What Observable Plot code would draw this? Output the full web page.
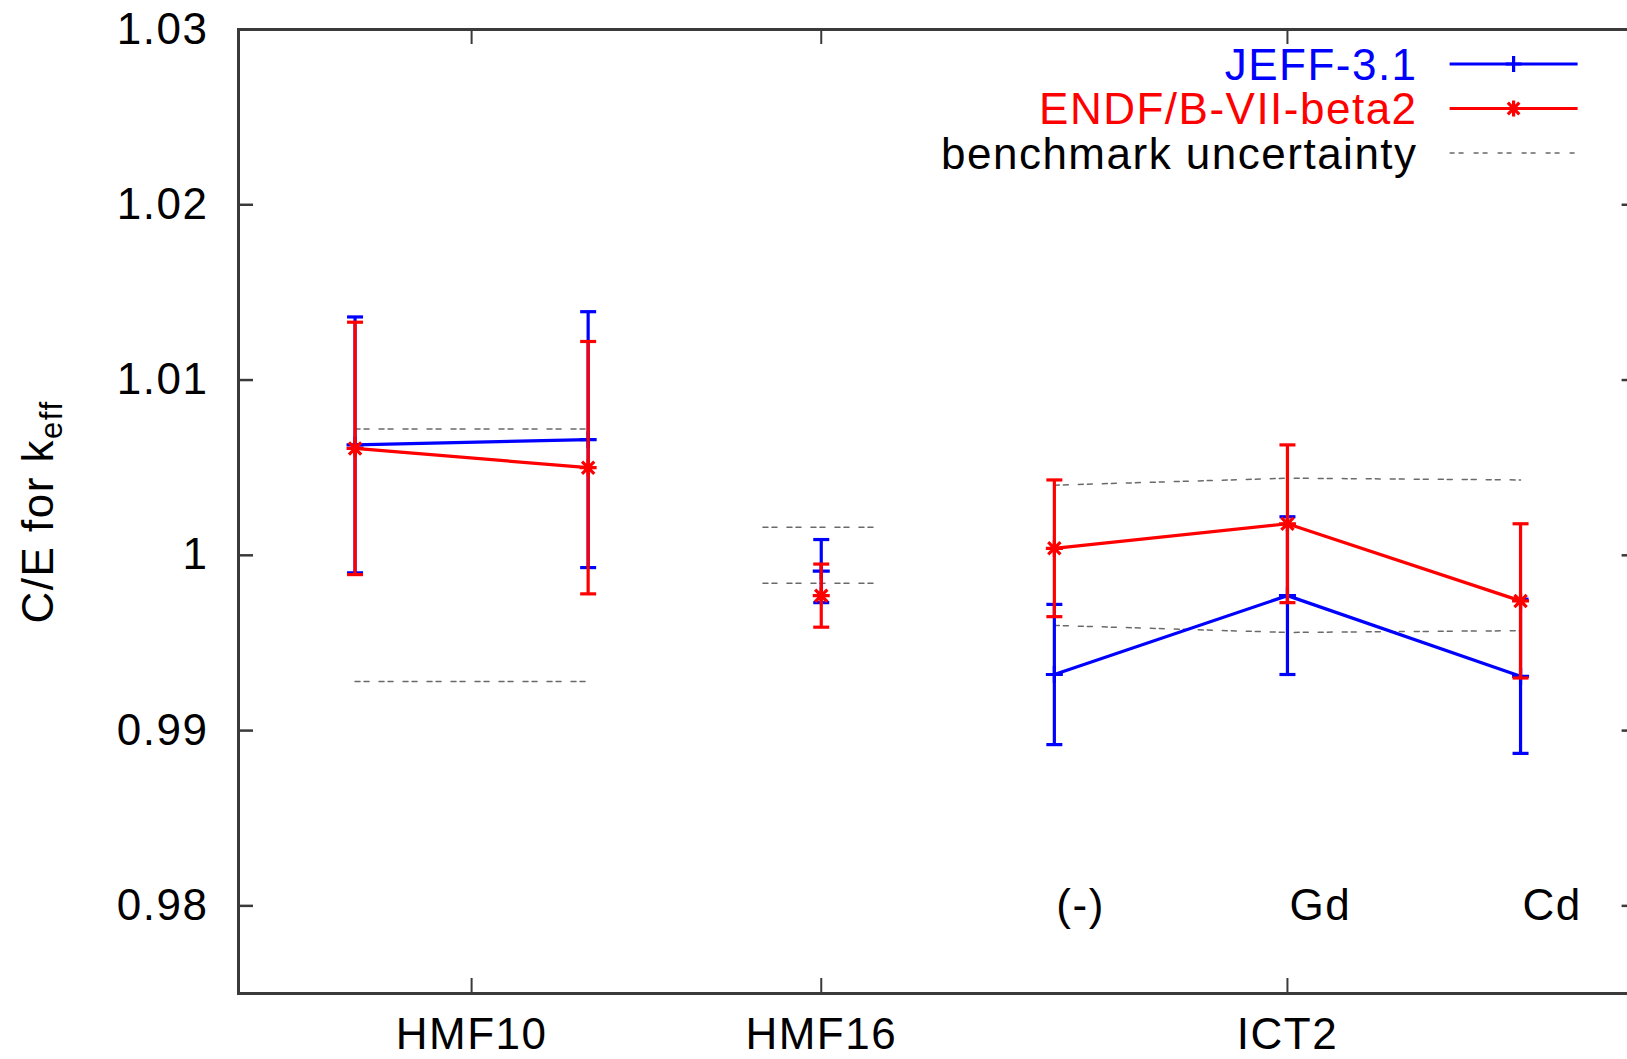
<!DOCTYPE html>
<html>
<head>
<meta charset="utf-8">
<script src="https://cdn.jsdelivr.net/npm/d3@7"></script>
<script src="https://cdn.jsdelivr.net/npm/@observablehq/plot@0.6"></script>
<style>
html, body { margin: 0; padding: 0; background: #fff; overflow: hidden; }
#chart svg { display: block; }
</style>
</head>
<body>
<div id="chart"></div>
<script>
// ---- data ----
const xPos    = [1, 2, 3, 4, 5, 6];
const groups  = ["HMF10", "HMF10", "HMF16", "ICT2", "ICT2", "ICT2"];
const jeff    = [1.0063, 1.0066, 0.9991, 0.9932, 0.9977, 0.9931];
const jeffErr = [0.0073, 0.0073, 0.0018, 0.0040, 0.0045, 0.0044];
const endf    = [1.0061, 1.0050, 0.9977, 1.0004, 1.0018, 0.9974];
const endfErr = [0.0072, 0.0072, 0.0018, 0.0039, 0.0045, 0.0044];

const benchX     = [1, 2, 2.75, 3.25, 4, 5, 6];
const benchU     = [0.0072, 0.0072, 0.0016, 0.0016, 0.0040, 0.0044, 0.0043];
const benchGroup = ["HMF10", "HMF10", "HMF16", "HMF16", "ICT2", "ICT2", "ICT2"];

const xTicks      = [1.5, 3, 5];
const xTickLabels = ["HMF10", "HMF16", "ICT2"];
const yTicks      = [0.98, 0.99, 1.00, 1.01, 1.02, 1.03];
const yTickLabels = ["0.98", "0.99", "1", "1.01", "1.02", "1.03"];

const caseX      = [4, 5, 6];
const caseY      = [0.98, 0.98, 0.98];
const caseLabels = ["(-)", "Gd", "Cd"];

const legendLabels = ["JEFF-3.1", "ENDF/B-VII-beta2", "benchmark uncertainty"];

// ---- build tables ----
const rows = xPos.map((x, i) => ({x, g: groups[i], jeff: jeff[i], jeffErr: jeffErr[i], endf: endf[i], endfErr: endfErr[i]}));
const bench = benchX.map((x, i) => ({x, u: benchU[i], g: benchGroup[i]}));
const cases = caseX.map((x, i) => ({x, y: caseY[i], label: caseLabels[i]}));
const xLabelMap = new Map(xTicks.map((t, i) => [t, xTickLabels[i]]));
const yLabelMap = new Map(yTicks.map((t, i) => [t, yTickLabels[i]]));

// ---- layout ----
const W = 1627, H = 1059;
const mL = 238, mR = -9.6, mT = 29, mB = 66;
const fw = W - mL - mR, fh = H - mT - mB;
const tick = 15;
const BLUE = "#0000ff", RED = "#ff0000", AXIS = "#3a3a3a", DASH = "#6a6a6a";
const FONT = "'Liberation Sans', Arial, Helvetica, sans-serif";
const LW = 3.2;

// gnuplot-like stroke symbols
const rOf = (size) => Math.sqrt(size / Math.PI);
const capSym  = {draw(c, s) { const r = rOf(s); c.moveTo(-r, 0); c.lineTo(r, 0); }};
const plusSym = {draw(c, s) { const r = rOf(s); c.moveTo(-r, 0); c.lineTo(r, 0); c.moveTo(0, -r); c.lineTo(0, r); }};
const starSym = {draw(c, s) { const r = rOf(s); const d = r * 0.72;
  c.moveTo(-r, 0); c.lineTo(r, 0); c.moveTo(0, -r); c.lineTo(0, r);
  c.moveTo(-d, -d); c.lineTo(d, d); c.moveTo(-d, d); c.lineTo(d, -d); }};

function seriesMarks(key, errKey, color, sym) {
  return [
    Plot.ruleX(rows, {x: "x", y1: d => d[key] - d[errKey], y2: d => d[key] + d[errKey], stroke: color, strokeWidth: LW}),
    Plot.dot(rows, {x: "x", y: d => d[key] - d[errKey], symbol: capSym, r: 8, fill: "none", stroke: color, strokeWidth: LW}),
    Plot.dot(rows, {x: "x", y: d => d[key] + d[errKey], symbol: capSym, r: 8, fill: "none", stroke: color, strokeWidth: LW}),
    Plot.line(rows, {x: "x", y: key, z: "g", stroke: color, strokeWidth: LW}),
    Plot.dot(rows, {x: "x", y: key, symbol: sym, r: 8.5, fill: "none", stroke: color, strokeWidth: LW})
  ];
}

// y-axis title with subscript
function yTitle(index, scales, values, dims) {
  const g = d3.create("svg:g");
  const t = g.append("text")
    .attr("transform", `translate(53, 512) rotate(-90)`)
    .attr("text-anchor", "middle")
    .attr("fill", "#000");
  t.append("tspan").text("C/E for k");
  t.append("tspan").attr("dy", "0.3em").attr("font-size", "31px").text("eff");
  return g.node();
}

// legend in the top-right of the frame
function legend(index, scales, values, dims) {
  const right = (dims ? dims.width - dims.marginRight : W - mR);
  const top = (dims ? dims.marginTop : mT);
  const colors = [BLUE, RED, "#000"];
  const g = d3.create("svg:g");
  legendLabels.forEach((lab, i) => {
    const y = top + 35 + 44.5 * i;
    g.append("text").attr("x", right - 219).attr("y", y).attr("dy", "0.36em")
      .attr("text-anchor", "end").attr("fill", colors[i]).text(lab);
    const line = g.append("line").attr("x1", right - 187).attr("x2", right - 59)
      .attr("y1", y).attr("y2", y);
    if (i < 2) {
      line.attr("stroke", colors[i]).attr("stroke-width", LW);
      const cx = right - 123, r = 8;
      const p = d3.path();
      (i === 0 ? plusSym : starSym).draw(p, Math.PI * r * r);
      g.append("path").attr("d", p.toString()).attr("transform", `translate(${cx},${y})`)
        .attr("fill", "none").attr("stroke", colors[i]).attr("stroke-width", LW);
    } else {
      line.attr("stroke", DASH).attr("stroke-width", 1.5).attr("stroke-dasharray", "5,4,5,10");
    }
  });
  return g.node();
}

const chart = Plot.plot({
  width: W,
  height: H,
  marginLeft: mL,
  marginRight: mR,
  marginTop: mT,
  marginBottom: mB,
  style: {fontFamily: FONT, fontSize: "44px", letterSpacing: "1.5px", background: "#fff", color: "#000", overflow: "hidden"},
  x: {domain: [0.5, 6.5], axis: null},
  y: {domain: [0.975, 1.03], axis: null},
  marks: [
    // benchmark uncertainty band edges
    Plot.line(bench, {x: "x", y: d => 1 + d.u, z: "g", stroke: DASH, strokeWidth: 1.5, strokeDasharray: "5,4,5,10"}),
    Plot.line(bench, {x: "x", y: d => 1 - d.u, z: "g", stroke: DASH, strokeWidth: 1.5, strokeDasharray: "5,4,5,10"}),
    ...seriesMarks("jeff", "jeffErr", BLUE, plusSym),
    ...seriesMarks("endf", "endfErr", RED, starSym),
    // case labels
    Plot.text(cases, {x: "x", y: "y", text: "label", textAnchor: "start", dx: 2, fill: "#000"}),
    // border
    Plot.frame({stroke: AXIS, strokeWidth: 3}),
    // inward ticks (mirrored)
    Plot.tickY(yTicks, {y: d => d, insetRight: fw - tick, stroke: AXIS, strokeWidth: 2.5}),
    Plot.tickY(yTicks, {y: d => d, insetLeft: fw - tick, stroke: AXIS, strokeWidth: 2.5}),
    Plot.tickX(xTicks, {x: d => d, insetTop: fh - tick, stroke: AXIS, strokeWidth: 2}),
    Plot.tickX(xTicks, {x: d => d, insetBottom: fh - tick, stroke: AXIS, strokeWidth: 2}),
    // tick labels
    Plot.axisY({ticks: yTicks, tickSize: 0, tickPadding: 30, tickFormat: d => yLabelMap.get(d), label: null, fill: "#000"}),
    Plot.axisX({ticks: xTicks, tickSize: 0, tickPadding: 24, tickFormat: d => xLabelMap.get(d), label: null, fill: "#000"}),
    yTitle,
    legend
  ]
});
document.getElementById("chart").appendChild(chart);
</script>
</body>
</html>
